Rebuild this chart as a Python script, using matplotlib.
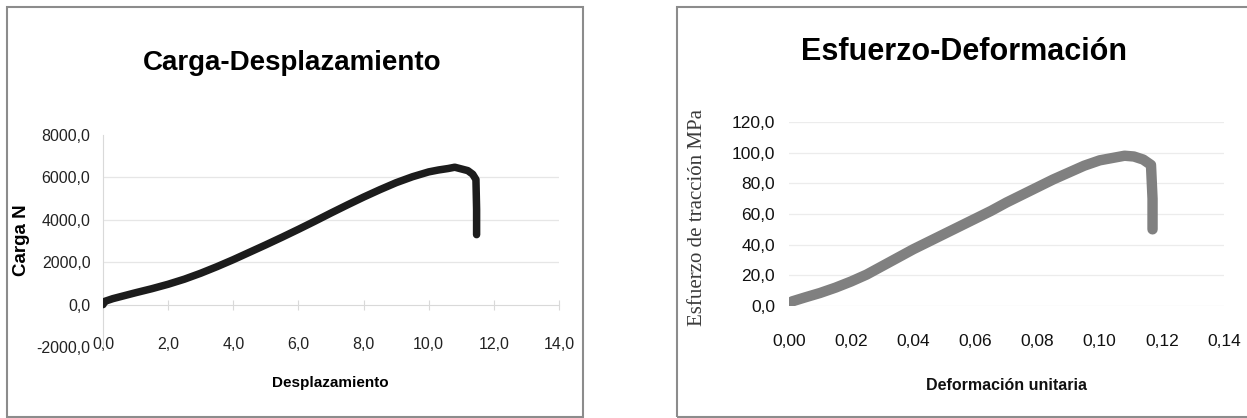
import matplotlib
matplotlib.use("Agg")
import matplotlib.pyplot as plt
from matplotlib.patches import Rectangle
from matplotlib import font_manager as fm

W, H = 1247, 418

# ---- data ----
desp = [0, 0.05, 0.3, 0.6, 1.0, 1.5, 2.0, 2.5, 3.0, 3.5, 4.0, 4.5, 5.0, 5.5, 6.0,
        6.5, 7.0, 7.5, 8.0, 8.5, 9.0, 9.5, 10.0, 10.3, 10.6, 10.8, 11.0, 11.2,
        11.35, 11.45, 11.47, 11.47]
carga = [0, 150, 280, 400, 560, 750, 960, 1200, 1480, 1790, 2120, 2470, 2820, 3180,
         3550, 3930, 4320, 4700, 5070, 5420, 5750, 6030, 6260, 6350, 6420, 6480,
         6400, 6320, 6150, 5900, 4500, 3300]

deform = [0, 0.001, 0.005, 0.01, 0.015, 0.02, 0.025, 0.03, 0.035, 0.04, 0.045, 0.05,
          0.055, 0.06, 0.065, 0.07, 0.075, 0.08, 0.085, 0.09, 0.095, 0.10, 0.104,
          0.108, 0.111, 0.114, 0.1165, 0.117, 0.117]
esfuerzo = [0, 3, 5.5, 8.5, 12, 16, 20.5, 26, 31.5, 37, 42, 47, 52, 57, 62, 67.5,
            72.5, 77.5, 82.5, 87, 91.5, 95, 96.5, 98, 97.5, 95.5, 92, 70, 50]

left_xticks = [0, 2, 4, 6, 8, 10, 12, 14]
left_yticks = [-2000, 0, 2000, 4000, 6000, 8000]
right_xticks = [0, 0.02, 0.04, 0.06, 0.08, 0.10, 0.12, 0.14]
right_yticks = [0, 20, 40, 60, 80, 100, 120]

# pick a narrow sans if one is installed
narrow_ok = False
try:
    p = fm.findfont(fm.FontProperties(family='Liberation Sans Narrow', weight='bold'),
                    fallback_to_default=False)
    narrow_ok = 'Narrow' in p
except Exception:
    narrow_ok = False

if narrow_ok:
    NARROW = ['Liberation Sans Narrow', 'DejaVu Sans']
    T1, T2, XL1, TK2 = 22, 25, 13, 13
else:
    NARROW = ['Liberation Sans', 'DejaVu Sans']
    T1, T2, XL1, TK2 = 20, 22, 11, 12.5
SANS = ['Liberation Sans', 'DejaVu Sans']


def fx(x):
    return x / W


def fy(y):
    return 1 - y / H


def ax_rect(x0, y0, x1, y1):
    return [fx(x0), fy(y1), (x1 - x0) / W, (y1 - y0) / H]


fig = plt.figure(figsize=(W / 100, H / 100), dpi=100)
fig.patch.set_facecolor('white')

# panel borders
for (x0, y0, x1, y1) in [(7, 7, 583, 417), (677, 7, 1252, 417)]:
    fig.patches.append(Rectangle((fx(x0), fy(y1)), (x1 - x0) / W, (y1 - y0) / H,
                                 transform=fig.transFigure, fill=False,
                                 edgecolor='#8c8c8c', lw=1.5))

# ---------------- Left chart ----------------
ax1 = fig.add_axes(ax_rect(103, 135, 559, 347))
ax1.set_xlim(0, 14)
ax1.set_ylim(-2000, 8000)
for y in [2000, 4000, 6000]:
    ax1.axhline(y, color='#e6e6e6', lw=0.9, zorder=0)
ax1.plot(desp, carga, color='#1c1c1c', lw=5.4, solid_capstyle='round',
         solid_joinstyle='round', zorder=3)
for s in ['top', 'right']:
    ax1.spines[s].set_visible(False)
ax1.spines['bottom'].set_position(('data', 0))
ax1.spines['bottom'].set_color('#d9d9d9')
ax1.spines['left'].set_color('#d9d9d9')
ax1.set_xticks(left_xticks)
ax1.set_xticklabels([f"{v:.1f}".replace('.', ',') for v in left_xticks])
ax1.set_yticks(left_yticks)
ax1.set_yticklabels([f"{v:.1f}".replace('.', ',') for v in left_yticks])
ax1.tick_params(axis='x', direction='inout', length=7, color='#d9d9d9', pad=20,
                labelsize=11.5, labelcolor='#222222')
ax1.tick_params(axis='y', length=0, pad=9, labelsize=11.5, labelcolor='#222222')
for t in ax1.get_xticklabels() + ax1.get_yticklabels():
    t.set_family(SANS)
ax1.patch.set_alpha(0)

fig.text(fx(292), fy(63), 'Carga-Desplazamiento', ha='center', va='center',
         fontsize=T1, fontweight='bold', family=NARROW)
fig.text(fx(330), fy(383), 'Desplazamiento', ha='center', va='center',
         fontsize=XL1, fontweight='bold', family=NARROW)
fig.text(fx(22), fy(240), 'Carga N', ha='center', va='center', rotation=90,
         fontsize=13.5, fontweight='bold', family=SANS)

# ---------------- Right chart ----------------
ax2 = fig.add_axes(ax_rect(789, 122, 1224, 306))
ax2.set_xlim(0, 0.14)
ax2.set_ylim(0, 120)
for y in right_yticks:
    ax2.axhline(y, color='#ececec', lw=0.9, zorder=0)
ax2.plot(deform, esfuerzo, color='#808080', lw=7.5, solid_capstyle='round',
         solid_joinstyle='round', zorder=3)
for s in ax2.spines.values():
    s.set_visible(False)
ax2.set_xticks(right_xticks)
ax2.set_xticklabels([f"{v:.2f}".replace('.', ',') for v in right_xticks])
ax2.set_yticks(right_yticks)
ax2.set_yticklabels([f"{v:.1f}".replace('.', ',') for v in right_yticks])
ax2.tick_params(axis='x', length=0, pad=20, labelsize=TK2, labelcolor='#111111')
ax2.tick_params(axis='y', length=0, pad=10, labelsize=TK2, labelcolor='#111111')
for t in ax2.get_xticklabels() + ax2.get_yticklabels():
    t.set_family(NARROW)
ax2.patch.set_alpha(0)

fig.text(fx(964), fy(52), 'Esfuerzo-Deformación', ha='center', va='center',
         fontsize=T2, fontweight='bold', family=NARROW)
fig.text(fx(1007), fy(385), 'Deformación unitaria', ha='center', va='center',
         fontsize=11.5, fontweight='bold', family=SANS, color='#111111')
fig.text(fx(697), fy(218), 'Esfuerzo de tracción MPa', ha='center', va='center',
         rotation=90, fontsize=15, family=['Liberation Serif', 'DejaVu Serif'],
         color='#3a3a3a')

fig.savefig('out.png', dpi=100, facecolor='white')
